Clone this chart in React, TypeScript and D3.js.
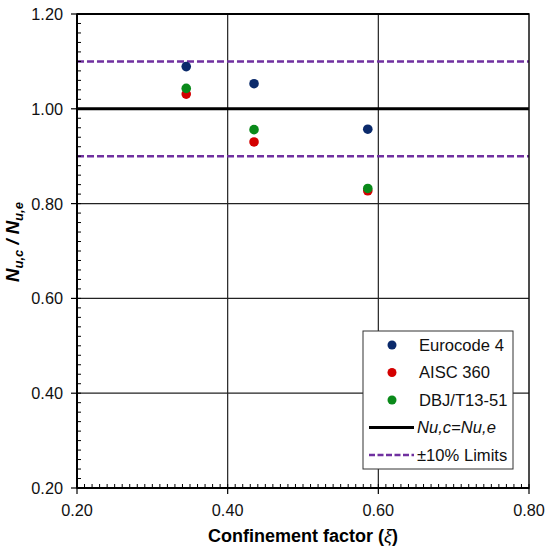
import * as d3 from "d3";

// confinement factor per specimen group
const xi = [0.345, 0.435, 0.586];
const eurocode4 = [1.089, 1.053, 0.957];
const aisc360 = [1.031, 0.93, 0.827];
const dbj = [1.043, 0.956, 0.832];

const xTicks = [0.2, 0.4, 0.6, 0.8];
const yTicks = [0.2, 0.4, 0.6, 0.8, 1.0, 1.2];
const limits = [0.9, 1.1];

const series = [
  { name: "Eurocode 4", values: eurocode4, color: "#0b2a6b" },
  { name: "AISC 360", values: aisc360, color: "#d40000" },
  { name: "DBJ/T13-51", values: dbj, color: "#0a8a1a" },
];

const W = 549;
const H = 550;
const margin = { top: 14, right: 20, bottom: 62, left: 77 };
const font = "Arial, 'Liberation Sans', sans-serif";
const purple = "#7030a0";

export default function App() {
  const x = d3
    .scaleLinear()
    .domain([0.2, 0.8])
    .range([margin.left, W - margin.right]);
  const y = d3
    .scaleLinear()
    .domain([0.2, 1.2])
    .range([H - margin.bottom, margin.top]);

  const [x0, x1] = x.range();
  const [y0, y1] = y.range();

  const xMinor = d3.range(0.2, 0.8001, 0.01);
  const yMinor = d3.range(0.2, 1.2001, 0.02);

  const lg = { x: 363, y: 331, w: 150, h: 138 };
  const rowY = (i: number) => lg.y + 14 + i * 27.5;

  return (
    <div style={{ position: "absolute", left: 0, top: 0 }}>
      <svg width={W} height={H} style={{ display: "block", fontFamily: font }}>
        <rect x={0} y={0} width={W} height={H} fill="#fff" />

        {/* grid */}
        {xTicks.slice(1, -1).map((t) => (
          <line key={"gx" + t} x1={x(t)} x2={x(t)} y1={y0} y2={y1} stroke="#222" strokeWidth={1.2} />
        ))}
        {yTicks.slice(1, -1).filter((t) => t !== 1.0).map((t) => (
          <line key={"gy" + t} x1={x0} x2={x1} y1={y(t)} y2={y(t)} stroke="#222" strokeWidth={1.2} />
        ))}

        {/* limits */}
        {limits.map((v) => (
          <line
            key={"lim" + v}
            x1={x0}
            x2={x1}
            y1={y(v)}
            y2={y(v)}
            stroke={purple}
            strokeWidth={2.5}
            strokeDasharray="7,3"
          />
        ))}
        <line x1={x0} x2={x1} y1={y(1.0)} y2={y(1.0)} stroke="#000" strokeWidth={3} />

        {/* frame */}
        <rect x={x0} y={y1} width={x1 - x0} height={y0 - y1} fill="none" stroke="#111" strokeWidth={1.5} />
        <line x1={x0} x2={x0} y1={y0} y2={y1} stroke="#000" strokeWidth={2} />
        <line x1={x0} x2={x1} y1={y0} y2={y0} stroke="#000" strokeWidth={2} />
        <line x1={x0} x2={x1} y1={y1} y2={y1} stroke="#000" strokeWidth={2} />

        {/* minor ticks */}
        {xMinor.map((t, i) => (
          <line key={"xm" + i} x1={x(t)} x2={x(t)} y1={y0} y2={y0 - 4} stroke="#000" strokeWidth={1} />
        ))}
        {yMinor.map((t, i) => (
          <line key={"ym" + i} x1={x0} x2={x0 + 4} y1={y(t)} y2={y(t)} stroke="#000" strokeWidth={1} />
        ))}

        {/* major ticks + labels */}
        {xTicks.map((t) => (
          <g key={"xt" + t}>
            <line x1={x(t)} x2={x(t)} y1={y0} y2={y0 + 6} stroke="#000" strokeWidth={1.2} />
            <text x={x(t)} y={y0 + 28} textAnchor="middle" fontSize={16.3} fill="#111">
              {t.toFixed(2)}
            </text>
          </g>
        ))}
        {yTicks.map((t) => (
          <g key={"yt" + t}>
            <line x1={x0 - 6} x2={x0} y1={y(t)} y2={y(t)} stroke="#000" strokeWidth={1.2} />
            <text x={x0 - 14} y={y(t) + 6} textAnchor="end" fontSize={16.3} fill="#111">
              {t.toFixed(2)}
            </text>
          </g>
        ))}

        {/* points */}
        {series.map((s) =>
          s.values.map((v, i) => (
            <circle key={s.name + i} cx={x(xi[i])} cy={y(v)} r={4.8} fill={s.color} />
          )),
        )}

        {/* axis titles */}
        <text x={(x0 + x1) / 2} y={542} textAnchor="middle" fontSize={18} fontWeight="bold" fill="#000">
          Confinement factor (<tspan fontStyle="italic" fontWeight="normal">ξ</tspan>)
        </text>
        <text
          transform={`translate(19, 242) rotate(-90)`}
          textAnchor="middle"
          fontSize={18.5}
          fontWeight="bold"
          fontStyle="italic"
          fill="#000"
        >
          N<tspan fontSize={13} dy={4}>u,c</tspan>
          <tspan dy={-4}> / N</tspan>
          <tspan fontSize={13} dy={4}>u,e</tspan>
        </text>

        {/* legend */}
        <rect x={lg.x} y={lg.y} width={lg.w} height={lg.h} fill="#fff" stroke="#333" strokeWidth={1} />
        {series.map((s, i) => (
          <g key={"lg" + s.name}>
            <circle cx={lg.x + 29} cy={rowY(i)} r={4.5} fill={s.color} />
            <text x={lg.x + 56} y={rowY(i) + 5.5} fontSize={16.6} fill="#111">
              {s.name}
            </text>
          </g>
        ))}
        <line x1={lg.x + 6} x2={lg.x + 51} y1={rowY(3)} y2={rowY(3)} stroke="#000" strokeWidth={3} />
        <text x={lg.x + 54} y={rowY(3) + 5.5} fontSize={16.6} fontStyle="italic" fill="#111">
          Nu,c=Nu,e
        </text>
        <line
          x1={lg.x + 6}
          x2={lg.x + 51}
          y1={rowY(4)}
          y2={rowY(4)}
          stroke={purple}
          strokeWidth={2.5}
          strokeDasharray="6,2.5"
        />
        <text x={lg.x + 54} y={rowY(4) + 5.5} fontSize={16.6} fill="#111">
          ±10% Limits
        </text>
      </svg>
    </div>
  );
}
